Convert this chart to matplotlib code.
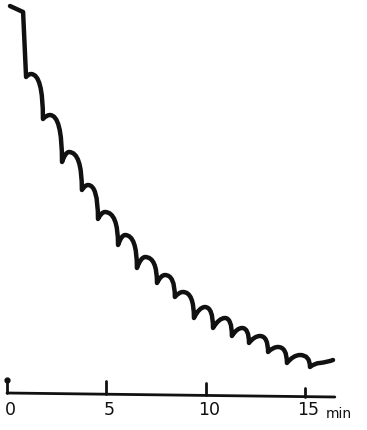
# kymograph-style trace: scalloped decline over ~16 minutes
import matplotlib.pyplot as plt
import numpy as np
from matplotlib.path import Path
from matplotlib.patches import PathPatch

# trace start (little hook at the top), in minutes / arbitrary height units
start_t = [0.15, 0.81]
start_y = [38.6, 38.0]

# bottom of each sharp drop (cusp) and top of the following hump
cusp_t = [0.96, 1.81, 2.77, 3.77, 4.58, 5.59, 6.54, 7.55, 8.45, 9.41,
          10.37, 11.32, 12.18, 13.14, 14.09, 15.25]
cusp_y = [31.5, 27.3, 23.0, 20.2, 17.3, 14.7, 12.4, 10.9, 9.5, 7.4,
          6.4, 5.6, 4.9, 4.0, 2.9, 2.5]
peak_t = [1.21, 2.16, 3.12, 4.08, 4.93, 5.94, 6.95, 7.95, 8.86, 9.96,
          10.97, 11.83, 12.73, 13.64, 14.75, 15.75]
peak_y = [31.8, 27.7, 24.0, 20.7, 18.0, 15.7, 13.5, 11.7, 10.0, 8.5,
          7.4, 6.4, 5.6, 4.5, 3.7, 2.9]
end_t, end_y = 16.41, 3.2

# time axis
axis_t = [0.0, 16.5]
axis_y = [-0.1, -0.5]
tick_t = [0, 5, 10, 15]
tick_top = [1.2, 1.1, 0.9, 0.4]
tick_labels = ['0', '5', '10', '15']

fig = plt.figure(figsize=(3.67, 4.30), dpi=100)
ax = fig.add_axes([0, 0, 1, 1])
ax.set_xlim(-0.352, 18.12)
ax.set_ylim(-3.8, 39.2)
ax.axis('off')

# build the trace as a path: straight drop, curved hump
verts = [(start_t[0], start_y[0]), (start_t[1], start_y[1])]
codes = [Path.MOVETO, Path.LINETO]
verts.append((cusp_t[0], cusp_y[0]))
codes.append(Path.LINETO)
for i in range(len(cusp_t)):
    ct, cy, pt, py = cusp_t[i], cusp_y[i], peak_t[i], peak_y[i]
    # rise to the hump
    verts += [(ct + 0.5 * (pt - ct), py), (pt, py)]
    codes += [Path.CURVE3, Path.CURVE3]
    # round over and drop into the next cusp
    if i + 1 < len(cusp_t):
        nt, ny = cusp_t[i + 1], cusp_y[i + 1]
        verts += [(nt, py), (nt, ny)]
    else:
        nt, ny = end_t, end_y
        verts += [(pt + 0.6 * (nt - pt), py + 0.1), (nt, ny)]
    codes += [Path.CURVE3, Path.CURVE3]

trace = PathPatch(Path(verts, codes), facecolor='none', edgecolor='#111111',
                  lw=3.2, capstyle='round', joinstyle='round')
ax.add_patch(trace)

# axis line and ticks
ax.plot(axis_t, axis_y, color='#111111', lw=2.0, solid_capstyle='round')
for t, top in zip(tick_t, tick_top):
    base = np.interp(t, axis_t, axis_y)
    ax.plot([t, t], [base, top], color='#111111', lw=2.0,
            solid_capstyle='round')
ax.plot([tick_t[0]], [tick_top[0]], 'o', color='#111111', ms=3.5)

for t, lab in zip(tick_t, tick_labels):
    ax.text(t + 0.15, -0.9, lab, ha='center', va='top', fontsize=12.5,
            color='#111111')
ax.text(16.05, -1.5, 'min', ha='left', va='top', fontsize=10,
        color='#111111')

fig.savefig('out.png', dpi=100)
